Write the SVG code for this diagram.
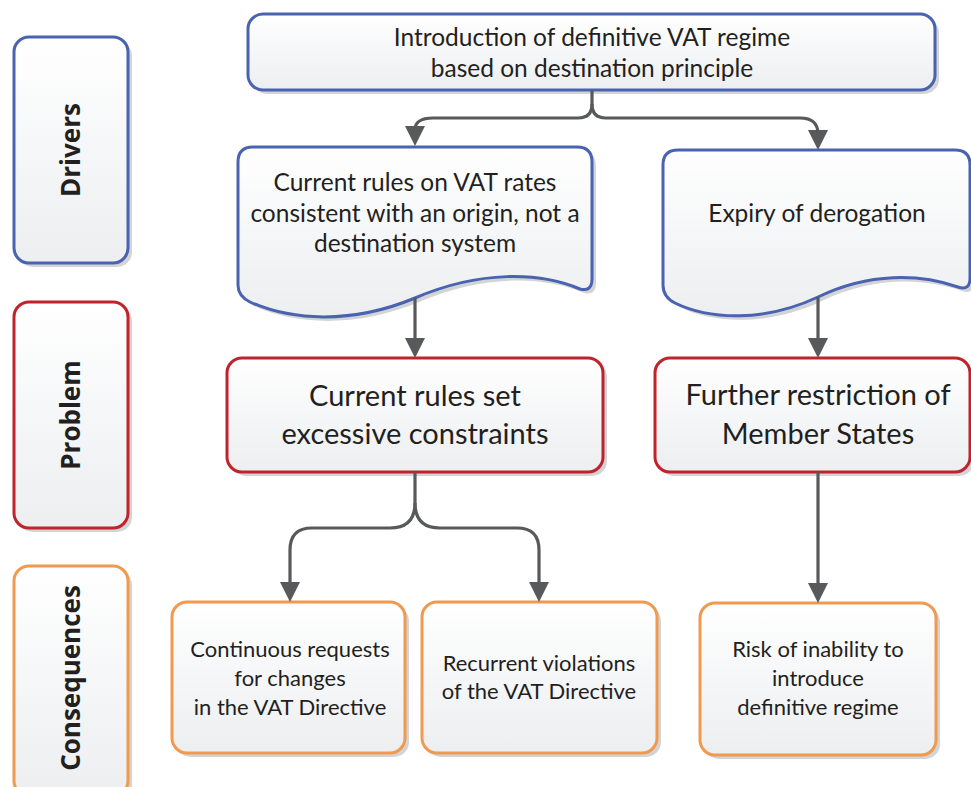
<svg xmlns="http://www.w3.org/2000/svg" width="971" height="787" viewBox="0 0 971 787">
<defs>
<linearGradient id="g" x1="0" y1="0" x2="0" y2="1">
<stop offset="0" stop-color="#ffffff"/>
<stop offset="1" stop-color="#eceef0"/>
</linearGradient>
<marker id="arr" viewBox="0 0 20 20" refX="4" refY="10" markerWidth="20" markerHeight="20" markerUnits="userSpaceOnUse" orient="auto">
<path d="M0,0 L20,10 L0,20 Z" fill="#58595b"/>
</marker>
</defs>
<style>
.sh{fill:#d3d4d6;}
.b{fill:url(#g);stroke-width:3;}
.blue{stroke:#4a63b0;}
.red{stroke:#c1222b;}
.org{stroke:#ef9a4f;}
.t{font-family:Lato,"Open Sans",sans-serif;fill:#231f20;text-anchor:middle;}
.lbl{font-family:"Open Sans",Lato,sans-serif;font-weight:bold;fill:#231f20;text-anchor:middle;font-size:26px;}
.c{fill:none;stroke:#58595b;stroke-width:3.2;}
</style>

<g id="drivers-label">
<rect class="sh" x="18" y="41" width="114" height="226" rx="15"/>
<rect class="b blue" x="14" y="37" width="114" height="226" rx="15"/>
<text class="lbl" transform="translate(80,150) rotate(-90)">Drivers</text>
</g>
<g id="problem-label">
<rect class="sh" x="18" y="306" width="114" height="226" rx="15"/>
<rect class="b red" x="14" y="302" width="114" height="226" rx="15"/>
<text class="lbl" transform="translate(80,415) rotate(-90)">Problem</text>
</g>
<g id="consequences-label">
<rect class="sh" x="18" y="570" width="114" height="230" rx="15"/>
<rect class="b org" x="14" y="566" width="114" height="230" rx="15"/>
<text class="lbl" transform="translate(80,678) rotate(-90)">Consequences</text>
</g>

<g id="top">
<rect class="sh" x="252" y="18" width="687" height="76" rx="15"/>
<rect class="b blue" x="248" y="14" width="687" height="76" rx="15"/>
<text class="t" font-size="24.5" x="592" y="45.5">Introduction of definitive VAT regime</text>
<text class="t" font-size="24.5" x="592" y="76.5">based on destination principle</text>
</g>

<g id="doc-left">
<path class="sh" transform="translate(4,4)" d="M253 147 H577 Q592 147 592 162 V279 Q592 292 580 289 C540 272 480 270 415 298 C350 325 290 320 250 302 Q238 296 238 285 V162 Q238 147 253 147 Z"/>
<path class="b blue" d="M253 147 H577 Q592 147 592 162 V279 Q592 292 580 289 C540 272 480 270 415 298 C350 325 290 320 250 302 Q238 296 238 285 V162 Q238 147 253 147 Z"/>
<text class="t" font-size="24.5" x="415" y="191">Current rules on VAT rates</text>
<text class="t" font-size="24.5" x="415" y="222">consistent with an origin, not a</text>
<text class="t" font-size="24.5" x="415" y="252">destination system</text>
</g>

<g id="doc-right">
<path class="sh" transform="translate(4,4)" d="M678 150 H955 Q970 150 970 165 V278 Q970 291 958 287 C920 274 870 272 818 297 C765 322 710 320 675 303 Q663 297 663 285 V165 Q663 150 678 150 Z"/>
<path class="b blue" d="M678 150 H955 Q970 150 970 165 V278 Q970 291 958 287 C920 274 870 272 818 297 C765 322 710 320 675 303 Q663 297 663 285 V165 Q663 150 678 150 Z"/>
<text class="t" font-size="24.5" x="817" y="222">Expiry of derogation</text>
</g>

<g id="problem-left">
<rect class="sh" x="231" y="362" width="376" height="114" rx="15"/>
<rect class="b red" x="227" y="358" width="376" height="114" rx="15"/>
<text class="t" font-size="29" x="415" y="406">Current rules set</text>
<text class="t" font-size="29" x="415" y="444">excessive constraints</text>
</g>

<g id="problem-right">
<rect class="sh" x="659" y="362" width="315" height="114" rx="15"/>
<rect class="b red" x="655" y="358" width="315" height="114" rx="15"/>
<text class="t" font-size="29" x="818" y="405">Further restriction of</text>
<text class="t" font-size="29" x="818" y="444">Member States</text>
</g>

<g id="cons-1">
<rect class="sh" x="176" y="606" width="233" height="151" rx="15"/>
<rect class="b org" x="172" y="602" width="233" height="151" rx="15"/>
<text class="t" font-size="22" x="290" y="657">Continuous requests</text>
<text class="t" font-size="22" x="290" y="686">for changes</text>
<text class="t" font-size="22" x="290" y="715"> in the VAT Directive</text>
</g>

<g id="cons-2">
<rect class="sh" x="426" y="606" width="235" height="151" rx="15"/>
<rect class="b org" x="422" y="602" width="235" height="151" rx="15"/>
<text class="t" font-size="22" x="539" y="671">Recurrent violations</text>
<text class="t" font-size="22" x="539" y="699">of the VAT Directive</text>
</g>

<g id="cons-3">
<rect class="sh" x="704" y="607" width="236" height="152" rx="15"/>
<rect class="b org" x="700" y="603" width="236" height="152" rx="15"/>
<text class="t" font-size="22" x="818" y="657">Risk of inability to</text>
<text class="t" font-size="22" x="818" y="686">introduce</text>
<text class="t" font-size="22" x="818" y="715">definitive regime</text>
</g>

<g id="connectors">
<path class="c" marker-end="url(#arr)" d="M592 90 V104 Q592 118 606 118 H800 Q818 118 818 134"/>
<path class="c" marker-end="url(#arr)" d="M592 104 Q592 118 578 118 H433 Q415 118 415 130"/>
<path class="c" marker-end="url(#arr)" d="M415 298 V342"/>
<path class="c" marker-end="url(#arr)" d="M818 297 V342"/>
<path class="c" marker-end="url(#arr)" d="M415 472 V503 Q415 528 390 528 H312 Q290 528 290 550 V586"/>
<path class="c" marker-end="url(#arr)" d="M415 503 Q415 528 440 528 H517 Q539 528 539 550 V586"/>
<path class="c" marker-end="url(#arr)" d="M818 472 V587"/>
</g>
</svg>
